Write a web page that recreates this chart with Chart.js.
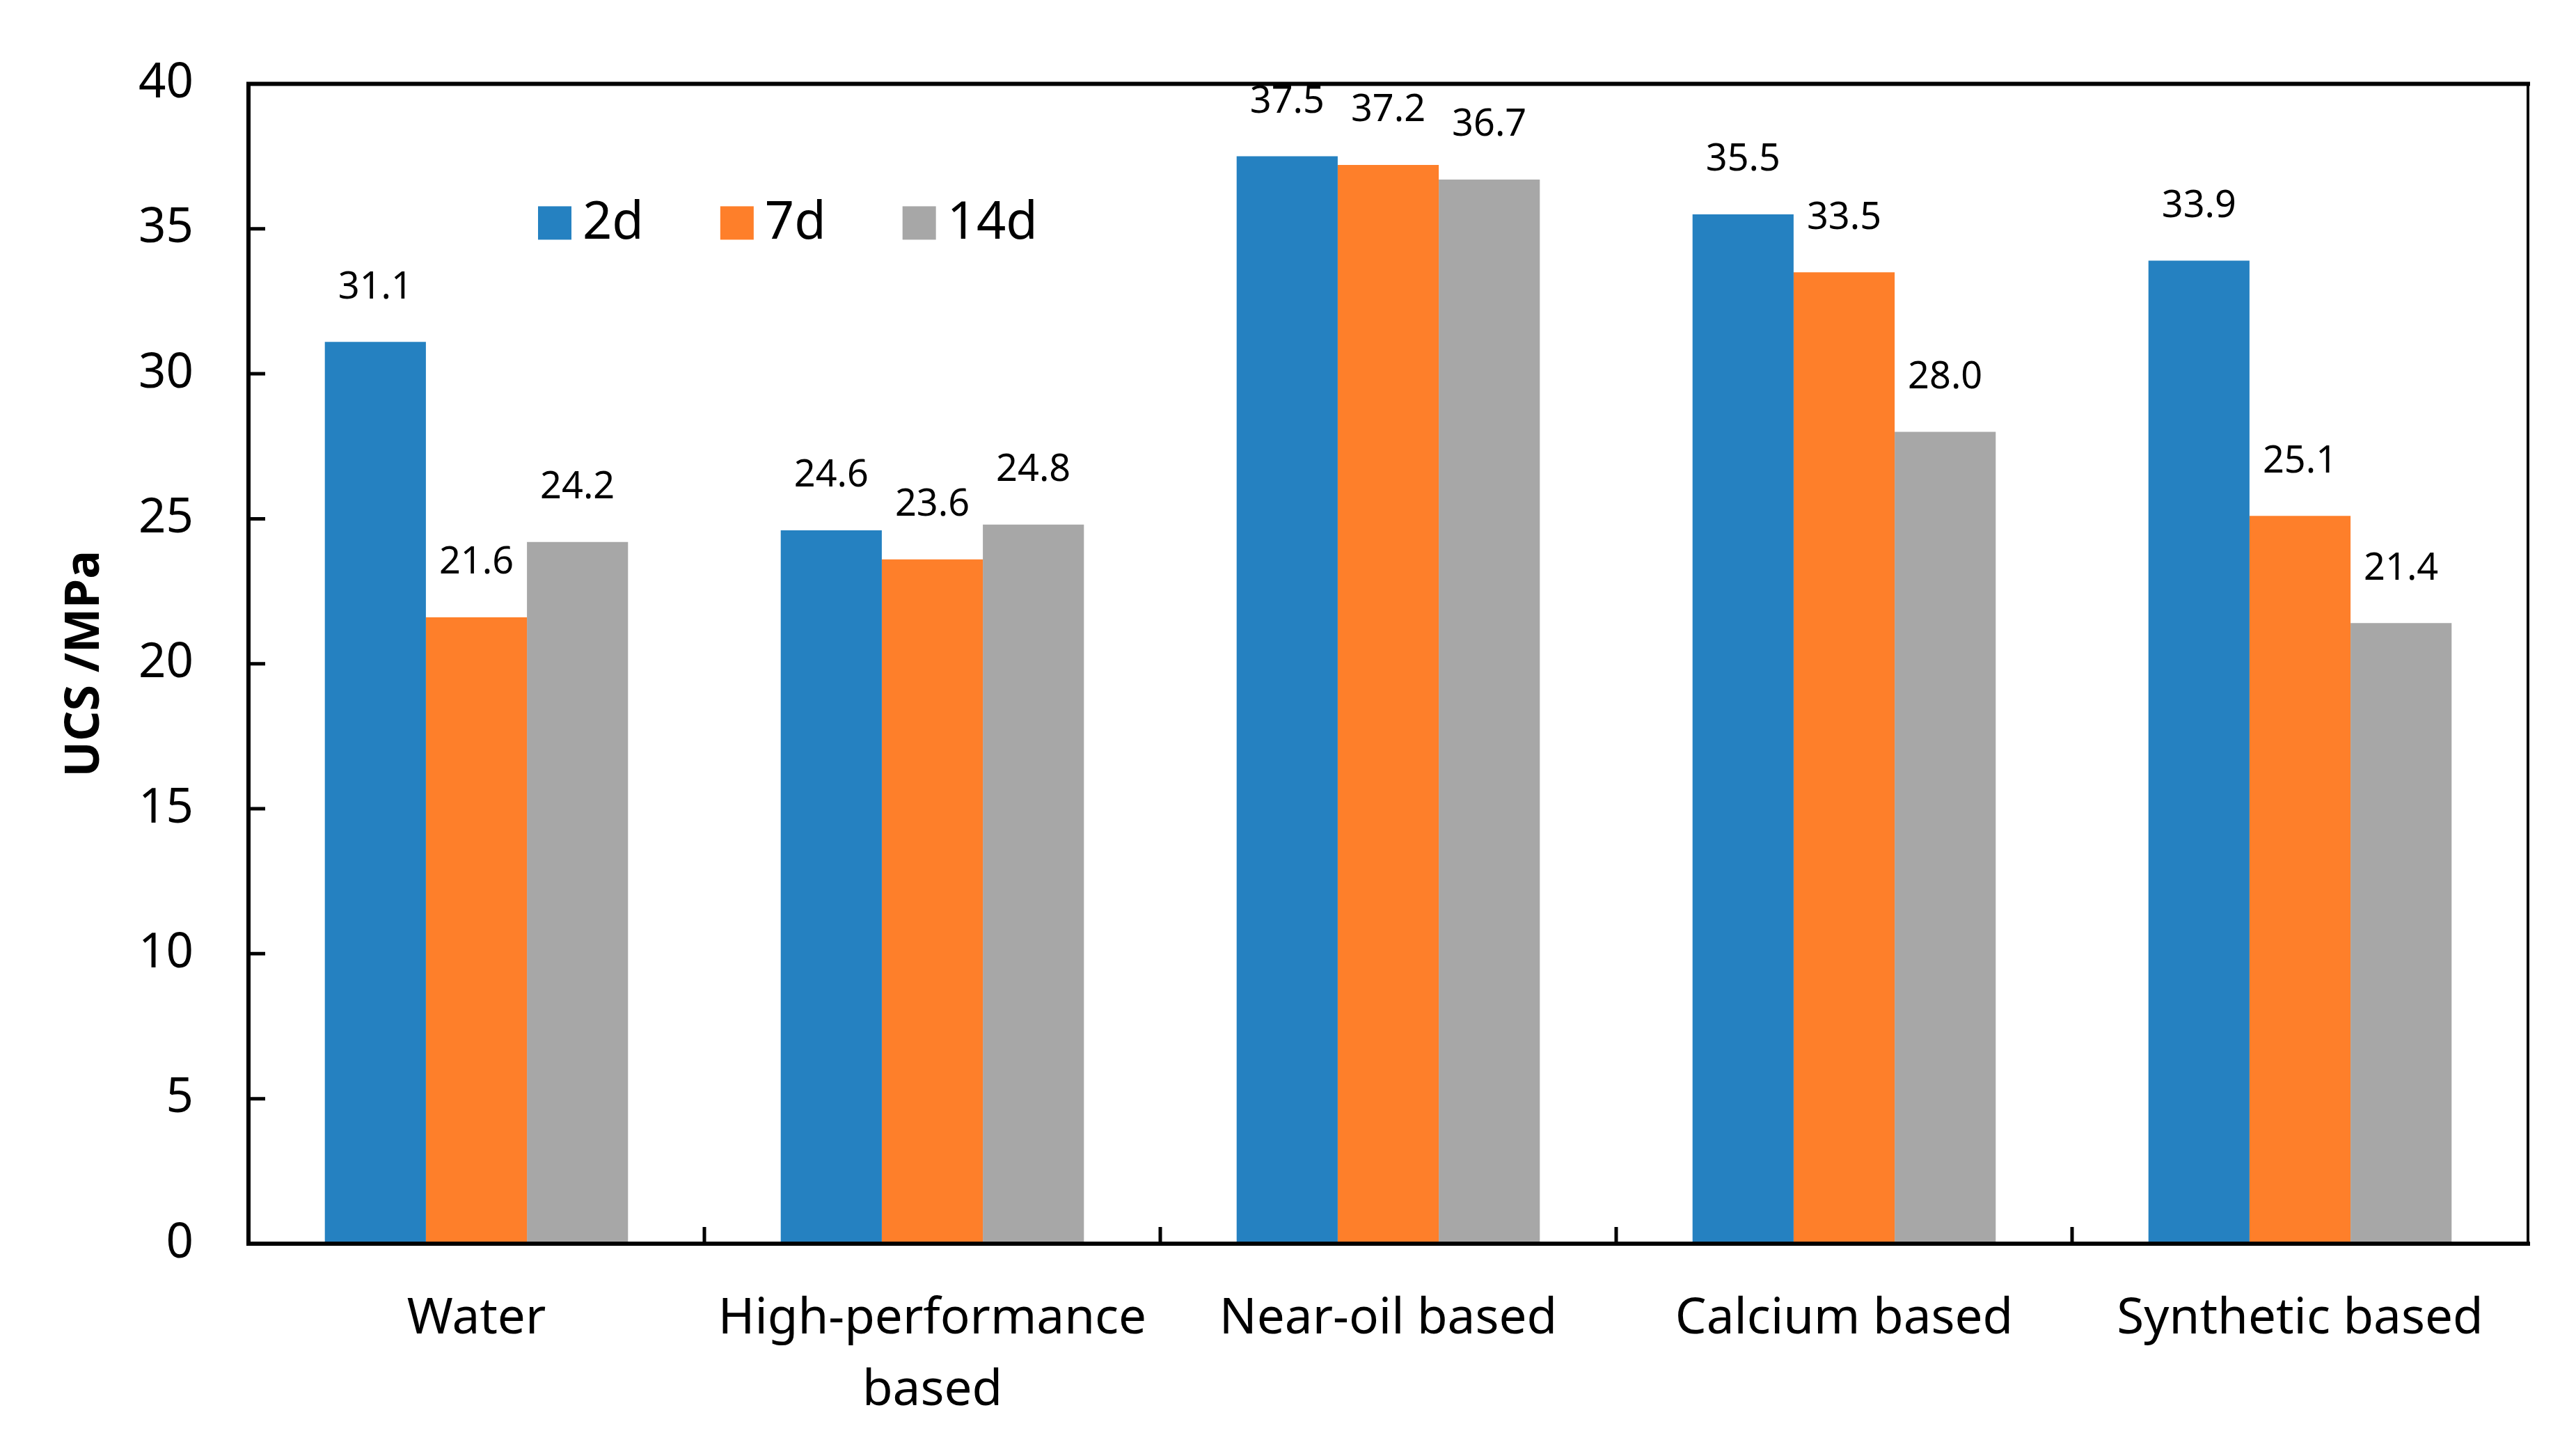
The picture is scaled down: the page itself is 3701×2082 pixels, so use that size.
<!DOCTYPE html>
<html>
<head>
<meta charset="utf-8">
<script src="https://cdn.jsdelivr.net/npm/chart.js@4/dist/chart.umd.min.js"></script>
<style>
  html, body { margin: 0; padding: 0; background: #fff; }
  #wrap { width: 3701px; height: 2082px; }
</style>
</head>
<body>
<div id="wrap"><canvas id="ucsChart" width="3701" height="2082"></canvas></div>
<script>
// chart data
const categories = ['Water', ['High-performance', 'based'], 'Near-oil based', 'Calcium based', 'Synthetic based'];
const seriesNames = ['2d', '7d', '14d'];
const ucs2d = [31.1, 24.6, 37.5, 35.5, 33.9];
const ucs7d = [21.6, 23.6, 37.2, 33.5, 25.1];
const ucs14d = [24.2, 24.8, 36.7, 28.0, 21.4];
const yTicks = [0, 5, 10, 15, 20, 25, 30, 35, 40];

const colors = ['#2581c1', '#fe7f2a', '#a7a7a7'];
const fontFamily = "'Noto Sans', 'Open Sans', sans-serif";

// value labels above each bar
const valueLabels = {
    id: 'valueLabels',
    afterDatasetsDraw(chart) {
        const ctx = chart.ctx;
        ctx.save();
        ctx.fillStyle = '#000';
        ctx.font = '54px ' + fontFamily;
        ctx.textAlign = 'center';
        ctx.textBaseline = 'middle';
        chart.data.datasets.forEach((ds, i) => {
            chart.getDatasetMeta(i).data.forEach((bar, j) => {
                ctx.fillText(ds.data[j].toFixed(1), bar.x, bar.y - 78);
            });
        });
        ctx.restore();
    }
};

// frame, inside tick marks and legend inside the plot
const frameAndLegend = {
    id: 'frameAndLegend',
    afterDraw(chart) {
        const ctx = chart.ctx;
        const a = chart.chartArea;
        const x = chart.scales.x;
        const y = chart.scales.y;
        ctx.save();
        ctx.strokeStyle = '#000';
        ctx.lineCap = 'square';

        ctx.lineWidth = 6;
        ctx.beginPath();
        ctx.moveTo(a.left, a.top);
        ctx.lineTo(a.right, a.top);
        ctx.moveTo(a.left, a.top);
        ctx.lineTo(a.left, a.bottom);
        ctx.lineTo(a.right, a.bottom);
        ctx.stroke();
        ctx.lineWidth = 4;
        ctx.beginPath();
        ctx.moveTo(a.right, a.top);
        ctx.lineTo(a.right, a.bottom);
        ctx.stroke();

        // y ticks pointing into the plot
        ctx.lineWidth = 5;
        ctx.lineCap = 'butt';
        ctx.beginPath();
        yTicks.forEach(v => {
            const py = y.getPixelForValue(v);
            ctx.moveTo(a.left, py);
            ctx.lineTo(a.left + 24, py);
        });
        // x ticks on category boundaries, pointing up
        for (let k = 1; k < categories.length; k++) {
            const px = (x.getPixelForValue(k - 1) + x.getPixelForValue(k)) / 2;
            ctx.moveTo(px, a.bottom);
            ctx.lineTo(px, a.bottom - 24);
        }
        ctx.stroke();

        // legend
        ctx.font = '74px ' + fontFamily;
        ctx.textBaseline = 'middle';
        ctx.textAlign = 'left';
        ctx.fillStyle = '#000';
        let lx = a.left + 416;
        const ly = a.top + 200;
        chart.data.datasets.forEach(ds => {
            ctx.fillStyle = ds.backgroundColor;
            ctx.fillRect(lx, ly - 24, 48, 48);
            ctx.fillStyle = '#000';
            ctx.fillText(ds.label, lx + 64, ly + 2);
            lx += 64 + ctx.measureText(ds.label).width + 110;
        });
        ctx.restore();
    }
};

const ctx = document.getElementById('ucsChart').getContext('2d');
const ucsChart = new Chart(ctx, {
    type: 'bar',
    data: {
        labels: categories,
        datasets: [
            { label: seriesNames[0], data: ucs2d, backgroundColor: colors[0] },
            { label: seriesNames[1], data: ucs7d, backgroundColor: colors[1] },
            { label: seriesNames[2], data: ucs14d, backgroundColor: colors[2] }
        ]
    },
    options: {
        responsive: false,
        animation: false,
        devicePixelRatio: 1,
        layout: { padding: { top: 114, right: 69, left: 0, bottom: 0 } },
        datasets: { bar: { categoryPercentage: 0.665, barPercentage: 1.0 } },
        plugins: {
            legend: { display: false },
            tooltip: { enabled: false }
        },
        scales: {
            x: {
                grid: { display: false, drawTicks: false },
                border: { display: false },
                ticks: {
                    color: '#000',
                    padding: 57,
                    maxRotation: 0,
                    autoSkip: false,
                    font: { family: fontFamily, size: 71, lineHeight: 1.45 }
                },
                afterFit(scale) { scale.height = 295; }
            },
            y: {
                min: 0,
                max: 40,
                grid: { display: false, drawTicks: false },
                border: { display: false },
                afterBuildTicks(scale) { scale.ticks = yTicks.map(v => ({ value: v })); },
                ticks: {
                    color: '#000',
                    padding: 79,
                    font: { family: fontFamily, size: 69 }
                },
                title: {
                    display: true,
                    text: 'UCS /MPa',
                    color: '#000',
                    padding: { top: 82, bottom: 0 },
                    font: { family: fontFamily, size: 68, weight: 'bold' }
                },
                afterFit(scale) { scale.width = 357; }
            }
        }
    },
    plugins: [valueLabels, frameAndLegend]
});
</script>
</body>
</html>
